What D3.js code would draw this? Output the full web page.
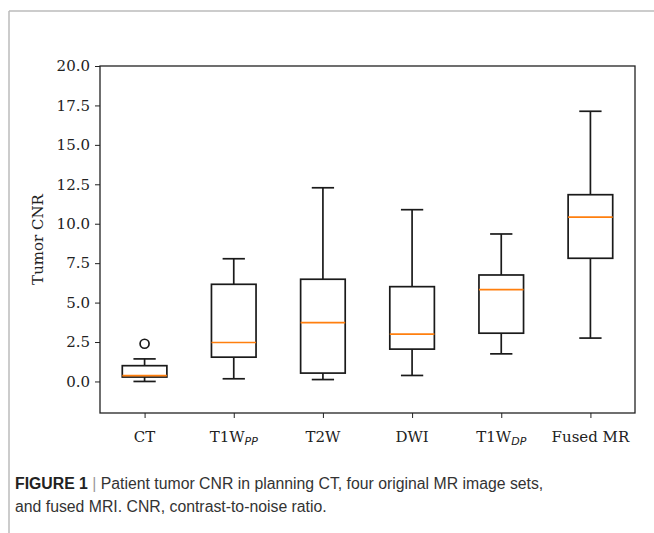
<!DOCTYPE html>
<html>
<head>
<meta charset="utf-8">
<script src="https://cdn.jsdelivr.net/npm/d3@7"></script>
<style>
  body { margin: 0; background: #fff; }
  svg { display: block; }
</style>
</head>
<body>
<svg id="chart" width="654" height="533"></svg>
<script>
// groups, label parts (main + italic subscript)
const groups = ["CT", "T1W_PP", "T2W", "DWI", "T1W_DP", "Fused MR"];
const labelMain = ["CT", "T1W", "T2W", "DWI", "T1W", "Fused MR"];
const labelSub = ["", "PP", "", "", "DP", ""];

// box stats
const whiskLow = [0.0, 0.17, 0.12, 0.38, 1.75, 2.75];
const q1 = [0.28, 1.54, 0.53, 2.05, 3.06, 7.81];
const median = [0.37, 2.47, 3.73, 3.0, 5.82, 10.42];
const q3 = [1.0, 6.16, 6.48, 6.01, 6.75, 11.84];
const whiskHigh = [1.43, 7.78, 12.28, 10.89, 9.35, 17.13];
const outliers = [[2.39], [], [], [], [], []];

const yTicks = [0, 2.5, 5, 7.5, 10, 12.5, 15, 17.5, 20];

const svg = d3.select("#chart");

// figure frame (left + top grey rule)
svg.append("line").attr("x1", 9).attr("x2", 654).attr("y1", 11).attr("y2", 11)
  .attr("stroke", "#bbb").attr("stroke-width", 1.5);
svg.append("line").attr("x1", 9).attr("x2", 9).attr("y1", 11).attr("y2", 533)
  .attr("stroke", "#bbb").attr("stroke-width", 1.5);

const pl = 100, pr = 635, pt = 66, pb = 413;

const x = d3.scalePoint().domain(groups).range([pl, pr]).padding(0.5);
const step = x.step();
const y = d3.scaleLinear().domain([-2, 20]).range([pb, pt]);

const serif = "DejaVu Serif";

// y axis
const yAxis = svg.append("g")
  .attr("transform", `translate(${pl},0)`)
  .call(d3.axisLeft(y).tickValues(yTicks).tickFormat(d3.format(".1f")).tickSize(5).tickPadding(5));
yAxis.select(".domain").remove();
yAxis.selectAll("text").attr("font-family", serif).attr("font-size", 15).attr("fill", "#222");
yAxis.selectAll("line").attr("stroke", "#222");

// x axis
const xAxis = svg.append("g")
  .attr("transform", `translate(0,${pb})`)
  .call(d3.axisBottom(x).tickSize(5).tickFormat(""));
xAxis.select(".domain").remove();
xAxis.selectAll("line").attr("stroke", "#222");

// x labels with subscripts
const xl = svg.append("g").selectAll("text").data(groups).join("text")
  .attr("x", d => x(d))
  .attr("y", pb + 29)
  .attr("text-anchor", "middle")
  .attr("font-family", serif)
  .attr("font-size", 15)
  .attr("fill", "#222");
xl.append("tspan").text((d, i) => labelMain[i]);
xl.filter((d, i) => labelSub[i] !== "")
  .append("tspan")
  .attr("font-family", "DejaVu Sans")
  .attr("font-style", "italic")
  .attr("font-size", 11)
  .attr("dy", 3)
  .text(d => labelSub[groups.indexOf(d)]);

// plot frame
svg.append("rect")
  .attr("x", pl).attr("y", pt)
  .attr("width", pr - pl).attr("height", pb - pt)
  .attr("fill", "none").attr("stroke", "#222").attr("stroke-width", 1.3);

// y label
svg.append("text")
  .attr("transform", `translate(43,${(pt + pb) / 2}) rotate(-90)`)
  .attr("text-anchor", "middle")
  .attr("font-family", serif)
  .attr("font-size", 15)
  .attr("fill", "#222")
  .text("Tumor CNR");

// boxes
const boxW = step * 0.5, capW = step * 0.25;
const g = svg.append("g").selectAll("g").data(groups).join("g");
const ink = "#1a1a1a";
const lw = 1.7;

g.append("line")
  .attr("x1", d => x(d)).attr("x2", d => x(d))
  .attr("y1", (d, i) => y(whiskLow[i])).attr("y2", (d, i) => y(q1[i]))
  .attr("stroke", ink).attr("stroke-width", lw);
g.append("line")
  .attr("x1", d => x(d)).attr("x2", d => x(d))
  .attr("y1", (d, i) => y(q3[i])).attr("y2", (d, i) => y(whiskHigh[i]))
  .attr("stroke", ink).attr("stroke-width", lw);
g.append("line")
  .attr("x1", d => x(d) - capW / 2).attr("x2", d => x(d) + capW / 2)
  .attr("y1", (d, i) => y(whiskLow[i])).attr("y2", (d, i) => y(whiskLow[i]))
  .attr("stroke", ink).attr("stroke-width", lw);
g.append("line")
  .attr("x1", d => x(d) - capW / 2).attr("x2", d => x(d) + capW / 2)
  .attr("y1", (d, i) => y(whiskHigh[i])).attr("y2", (d, i) => y(whiskHigh[i]))
  .attr("stroke", ink).attr("stroke-width", lw);
g.append("rect")
  .attr("x", d => x(d) - boxW / 2)
  .attr("y", (d, i) => y(q3[i]))
  .attr("width", boxW)
  .attr("height", (d, i) => y(q1[i]) - y(q3[i]))
  .attr("fill", "none").attr("stroke", ink).attr("stroke-width", lw);
g.append("line")
  .attr("x1", d => x(d) - boxW / 2).attr("x2", d => x(d) + boxW / 2)
  .attr("y1", (d, i) => y(median[i])).attr("y2", (d, i) => y(median[i]))
  .attr("stroke", "#ff7f0e").attr("stroke-width", lw);
g.each(function (d, i) {
  d3.select(this).selectAll("circle").data(outliers[i]).join("circle")
    .attr("cx", x(d)).attr("cy", v => y(v)).attr("r", 4.5)
    .attr("fill", "none").attr("stroke", ink).attr("stroke-width", lw);
});

// caption
const capFont = "Liberation Sans, Arial, sans-serif";
const cap = svg.append("text")
  .attr("x", 15).attr("y", 489)
  .attr("font-family", capFont)
  .attr("font-size", 15.8)
  .attr("fill", "#333");
cap.append("tspan").attr("font-weight", "bold").attr("fill", "#222").text("FIGURE 1");
cap.append("tspan").attr("fill", "#999").text(" | ");
cap.append("tspan").text("Patient tumor CNR in planning CT, four original MR image sets,");
svg.append("text")
  .attr("x", 15).attr("y", 512)
  .attr("font-family", capFont)
  .attr("font-size", 15.8)
  .attr("fill", "#333")
  .text("and fused MRI. CNR, contrast-to-noise ratio.");
</script>
</body>
</html>
